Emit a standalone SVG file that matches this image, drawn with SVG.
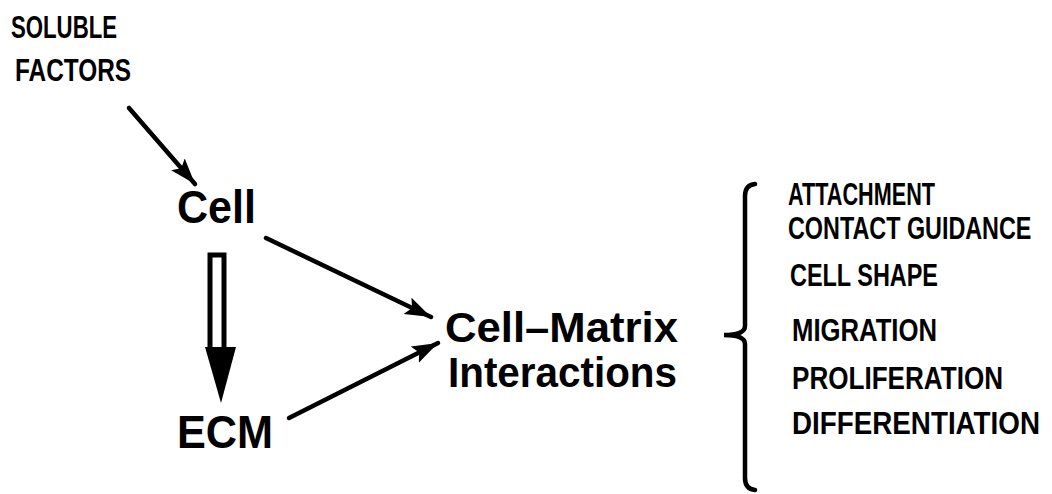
<svg xmlns="http://www.w3.org/2000/svg" width="1052" height="494" viewBox="0 0 1052 494">
<style>
.big{font-family:"Liberation Sans",Arial,sans-serif;font-weight:bold;fill:#000}
.cap{font-family:"Liberation Sans",Arial,sans-serif;font-weight:bold;fill:#000;font-size:32px}
.ln{stroke:#000;stroke-width:4.5;fill:none;stroke-linecap:round}
</style>
<defs>
<marker id="ah" markerUnits="userSpaceOnUse" markerWidth="30" markerHeight="20" refX="26" refY="9" orient="auto">
<path d="M0,0 L26,9 L0,18 L5,9 Z" fill="#000"/>
</marker>
</defs>
<rect width="1052" height="494" fill="#fff"/>
<g id="soluble-factors">
<text class="cap" x="11" y="38" textLength="106" lengthAdjust="spacingAndGlyphs">SOLUBLE</text>
<text class="cap" x="15" y="81" textLength="116" lengthAdjust="spacingAndGlyphs">FACTORS</text>
</g>
<g id="cell">
<text class="big" x="177" y="223" font-size="46" textLength="79" lengthAdjust="spacingAndGlyphs">Cell</text>
</g>
<g id="ecm">
<text class="big" x="177" y="448" font-size="46" textLength="96" lengthAdjust="spacingAndGlyphs">ECM</text>
</g>
<g id="cell-matrix">
<text class="big" x="445" y="342" font-size="43" textLength="233" lengthAdjust="spacingAndGlyphs">Cell–Matrix</text>
<text class="big" x="448" y="387" font-size="43" textLength="229" lengthAdjust="spacingAndGlyphs">Interactions</text>
</g>
<g id="outcomes">
<text class="cap" x="788" y="205" textLength="147" lengthAdjust="spacingAndGlyphs">ATTACHMENT</text>
<text class="cap" transform="translate(788,239) scale(0.73,1)" x="0" y="0">CONTACT  GUIDANCE</text>
<text class="cap" x="790" y="286" textLength="148" lengthAdjust="spacingAndGlyphs">CELL  SHAPE</text>
<text class="cap" x="792" y="341" textLength="145" lengthAdjust="spacingAndGlyphs">MIGRATION</text>
<text class="cap" x="792" y="389" textLength="211" lengthAdjust="spacingAndGlyphs">PROLIFERATION</text>
<text class="cap" transform="translate(792,434) scale(0.8,1)" x="0" y="0" textLength="310" lengthAdjust="spacingAndGlyphs">DIFFERENTIATION</text>
</g>
<g id="connectors">
<line class="ln" x1="129" y1="108" x2="195" y2="184" marker-end="url(#ah)"/>
<line class="ln" x1="266" y1="238" x2="431" y2="317" marker-end="url(#ah)"/>
<line class="ln" x1="289" y1="418" x2="438" y2="343" marker-end="url(#ah)"/>
<rect x="210" y="255" width="14" height="95" fill="#fff" stroke="#000" stroke-width="5"/>
<path d="M205,347 L236,347 L221,403 Z" fill="#000"/>
<path class="ln" stroke-width="3.5" d="M755,184 Q745,185 745,196 L745,326 Q745,335 724,335 Q745,335 745,344 L745,478 Q745,489 755,490"/>
</g>
</svg>
